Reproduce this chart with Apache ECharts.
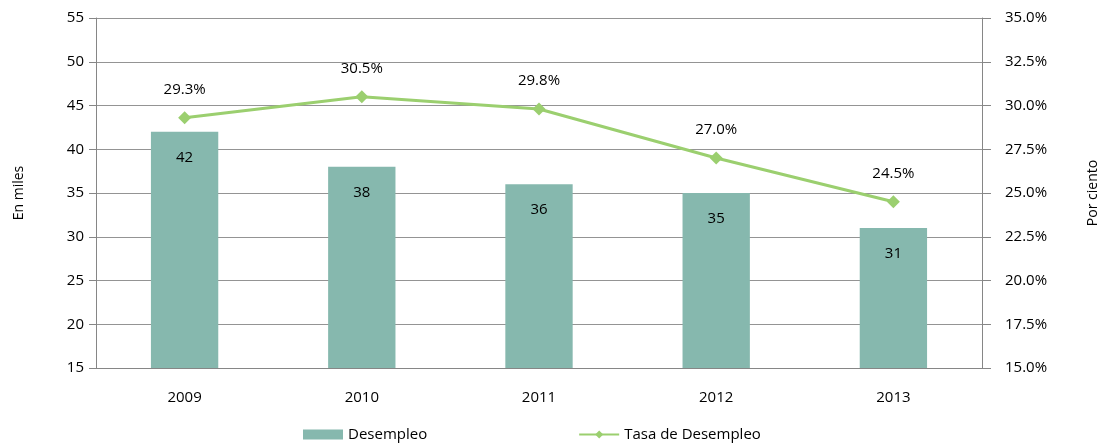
<!DOCTYPE html>
<html><head><meta charset="utf-8">
<script src="https://cdn.jsdelivr.net/npm/echarts@6/dist/echarts.min.js"></script>
<style>html,body{margin:0;padding:0;background:#fff}#c{width:1110px;height:447px}</style>
</head><body><div id="c"></div>
<script>
const years = ['2009','2010','2011','2012','2013'];
const desempleo = [42, 38, 36, 35, 31];
const tasa = [29.3, 30.5, 29.8, 27.0, 24.5];
const leftTicks = {min: 15, max: 55, interval: 5};
const rightTicks = {min: 15, max: 35, interval: 2.5};

const font = 'Open Sans';
const chart = echarts.init(document.getElementById('c'));
chart.setOption({
  animation: false,
  textStyle: {fontFamily: font},
  grid: {left: 96, right: 128, top: 18, bottom: 79},
  legend: {
    bottom: 0, left: 298, itemGap: 151, itemWidth: 40, itemHeight: 10,
    textStyle: {fontFamily: font, fontSize: 15, color: '#000'},
    data: [{name: 'Desempleo', icon: 'rect'}, {name: 'Tasa de Desempleo'}]
  },
  xAxis: {
    type: 'category', data: years,
    axisLine: {lineStyle: {color: '#868686'}},
    axisTick: {length: 6, lineStyle: {color: '#868686'}},
    axisLabel: {color: '#000', fontSize: 15, margin: 22}
  },
  yAxis: [{
    type: 'value', min: leftTicks.min, max: leftTicks.max, interval: leftTicks.interval,
    name: 'En miles', nameLocation: 'middle', nameGap: 70, nameRotate: 90,
    nameTextStyle: {color: '#000', fontSize: 14},
    axisLine: {show: true, lineStyle: {color: '#868686'}},
    axisTick: {show: true, length: 7, lineStyle: {color: '#868686'}},
    axisLabel: {color: '#000', fontSize: 15, margin: 12},
    splitLine: {lineStyle: {color: '#949494'}}
  }, {
    type: 'value', min: rightTicks.min, max: rightTicks.max, interval: rightTicks.interval,
    name: 'Por ciento', nameLocation: 'middle', nameGap: 104, nameRotate: 90,
    nameTextStyle: {color: '#000', fontSize: 14},
    axisLine: {show: true, lineStyle: {color: '#868686'}},
    axisTick: {show: true, length: 9, lineStyle: {color: '#868686'}},
    axisLabel: {color: '#000', fontSize: 15, margin: 23, formatter: v => v.toFixed(1) + '%'},
    splitLine: {show: false}
  }],
  series: [{
    name: 'Desempleo', type: 'bar', data: desempleo, barWidth: '38%',
    itemStyle: {color: '#86b8ae'},
    label: {show: true, position: 'insideTop', distance: 18, color: '#000', fontSize: 15, fontFamily: font}
  }, {
    name: 'Tasa de Desempleo', type: 'line', yAxisIndex: 1, data: tasa,
    symbol: 'diamond', symbolSize: 13,
    lineStyle: {color: '#9bcf6f', width: 3},
    itemStyle: {color: '#9bcf6f'},
    label: {show: true, position: 'top', distance: 14, color: '#000', fontSize: 15, fontFamily: font,
      formatter: p => p.value.toFixed(1) + '%'}
  }]
});
</script></body></html>
